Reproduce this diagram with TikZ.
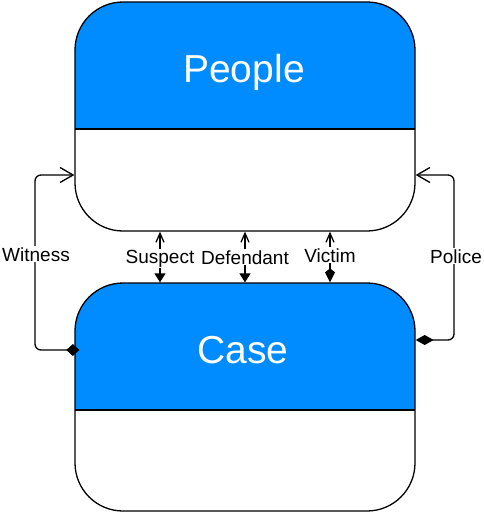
\documentclass[tikz,border=0pt]{standalone}
\usepackage{fontspec}
\setmainfont{Liberation Sans}
\usetikzlibrary{arrows.meta}
\definecolor{hdr}{RGB}{0,140,255}
\tikzset{
  entity/.style={draw=black, line width=1.3pt, rounded corners=48pt,
    minimum width=340pt, minimum height=#1, inner sep=0pt, fill=white,
    path picture={
      \fill[hdr, sharp corners] (path picture bounding box.north west) rectangle
        ([yshift=-127pt]path picture bounding box.north east);
      \draw[line width=1.3pt, sharp corners] ([yshift=-127pt]path picture bounding box.north west) --
        ([yshift=-127pt]path picture bounding box.north east);
    }},
  title/.style={text=white, font=\fontsize{39}{44}\selectfont, anchor=base, inner sep=0pt},
  conn/.style={draw=black, line width=1.3pt},
  lbl/.style={fill=white, font=\fontsize{19}{22}\selectfont, anchor=base, inner sep=1pt},
}
\begin{document}
\begin{tikzpicture}[x=1pt,y=-1pt]
\useasboundingbox (0,0) rectangle (483,513);
% entities
\node[entity=229pt] (people) at (245,116.5) {};
\node[entity=228pt] (case) at (245,397) {};
\node[title] (peopletitle) at (244,83) {People};
\node[title] (casetitle) at (243,363) {Case};
% helper coordinates
\coordinate (wtop) at (35,175);
\coordinate (wbot) at (35,350);
\coordinate (ptop) at (454,175);
\coordinate (pbot) at (454,340);
\coordinate (sx) at (160,0);
\coordinate (dx) at (245,0);
\coordinate (vx) at (330,0);
% connectors
\draw[conn, rounded corners=6pt, {Diamond[length=13pt,width=12pt]}-{Straight Barb[length=13pt,width=15pt]}, shorten <=-5pt]
  (case.west |- wbot) -- (wbot) -- (wtop) -- (people.west |- wtop);
\draw[conn, rounded corners=6pt, {Diamond[length=18pt,width=10pt]}-{Straight Barb[length=13pt,width=15pt]}]
  (case.east |- pbot) -- (pbot) -- (ptop) -- (people.east |- ptop);
\draw[conn, {Triangle[length=9pt,width=11pt]}-{Straight Barb[length=9pt,width=8pt]}]
  (case.north -| sx) -- (people.south -| sx);
\draw[conn, {Triangle[length=9pt,width=11pt]}-{Straight Barb[length=9pt,width=8pt]}]
  (case.north -| dx) -- (people.south -| dx);
\draw[conn, {Kite[length=14pt,width=10pt,inset=4pt]}-{Straight Barb[length=9pt,width=8pt]}]
  (case.north -| vx) -- (people.south -| vx);
% labels
\node[lbl] (lwitness) at (36,261) {Witness};
\node[lbl] (lsuspect) at (160,263) {Suspect};
\node[lbl] (ldefendant) at (245,264) {Defendant};
\node[lbl] (lvictim) at (330,262) {Victim};
\node[lbl] (lpolice) at (456,263) {Police};
\end{tikzpicture}
\end{document}
